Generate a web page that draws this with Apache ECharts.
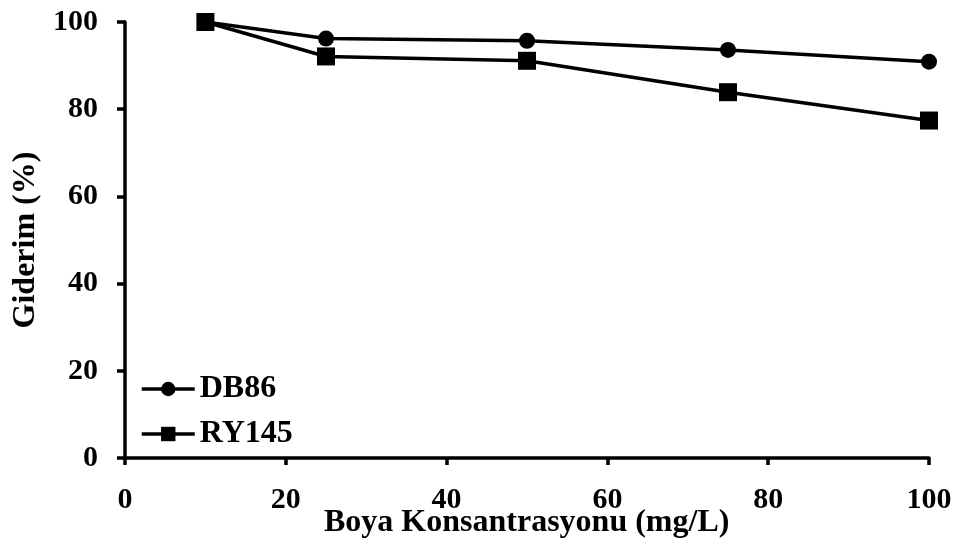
<!DOCTYPE html>
<html><head><meta charset="utf-8">
<script src="https://cdn.jsdelivr.net/npm/echarts@6/dist/echarts.min.js"></script>
<style>html,body{margin:0;padding:0;background:#fff}#c{width:962px;height:545px}</style>
</head><body><div id="c"></div>
<script>
const concentrations = [10, 25, 50, 75, 100];
const db86 = [100, 96.2, 95.7, 93.6, 90.9];
const ry145 = [100, 92.1, 91.1, 83.9, 77.4];
const seriesNames = ['DB86', 'RY145'];
const xTicks = [0, 20, 40, 60, 80, 100];
const yTicks = [0, 20, 40, 60, 80, 100];
const xTitle = 'Boya Konsantrasyonu (mg/L)';
const yTitle = 'Giderim (%)';

const font = 'Liberation Serif, Times New Roman, serif';
const chart = echarts.init(document.getElementById('c'));
chart.setOption({
  animation: false,
  backgroundColor: '#fff',
  grid: {left: 125, right: 33, top: 22, bottom: 87, containLabel: false, outerBoundsMode: 'none'},
  legend: {
    left: 140, top: 373, orient: 'vertical', itemGap: 13, padding: 0,
    itemWidth: 53, itemHeight: 18,
    lineStyle: {width: 3.5},
    textStyle: {fontFamily: font, fontWeight: 'bold', fontSize: 32, color: '#000'},
    data: seriesNames
  },
  graphic: [{
    type: 'text', left: 324, top: 507, z: 10,
    style: {text: xTitle, font: 'bold 32px ' + font, fill: '#000'}
  }],
  xAxis: {
    type: 'value', min: xTicks[0], max: xTicks[xTicks.length - 1], interval: xTicks[1] - xTicks[0],
    axisLine: {lineStyle: {color: '#000', width: 3.5}},
    axisTick: {show: true, inside: false, length: 7, lineStyle: {color: '#000', width: 3.5}},
    axisLabel: {fontFamily: font, fontWeight: 'bold', fontSize: 30, color: '#000', margin: 27},
    splitLine: {show: false}
  },
  yAxis: {
    type: 'value', min: yTicks[0], max: yTicks[yTicks.length - 1], interval: yTicks[1] - yTicks[0],
    name: yTitle, nameLocation: 'middle', nameGap: 78,
    nameTextStyle: {fontFamily: font, fontWeight: 'bold', fontSize: 32, color: '#000'},
    axisLine: {show: true, lineStyle: {color: '#000', width: 3.5}},
    axisTick: {show: true, inside: false, length: 8, lineStyle: {color: '#000', width: 3.5}},
    axisLabel: {fontFamily: font, fontWeight: 'bold', fontSize: 30, color: '#000', margin: 27},
    splitLine: {show: false}
  },
  series: [
    {name: seriesNames[0], type: 'line', symbol: 'circle', symbolSize: 16,
     data: concentrations.map((x, i) => [x, db86[i]]),
     lineStyle: {color: '#000', width: 3.5}, itemStyle: {color: '#000'}},
    {name: seriesNames[1], type: 'line', symbol: 'rect', symbolSize: 18,
     data: concentrations.map((x, i) => [x, ry145[i]]),
     lineStyle: {color: '#000', width: 3.5}, itemStyle: {color: '#000'}}
  ]
});
</script></body></html>
